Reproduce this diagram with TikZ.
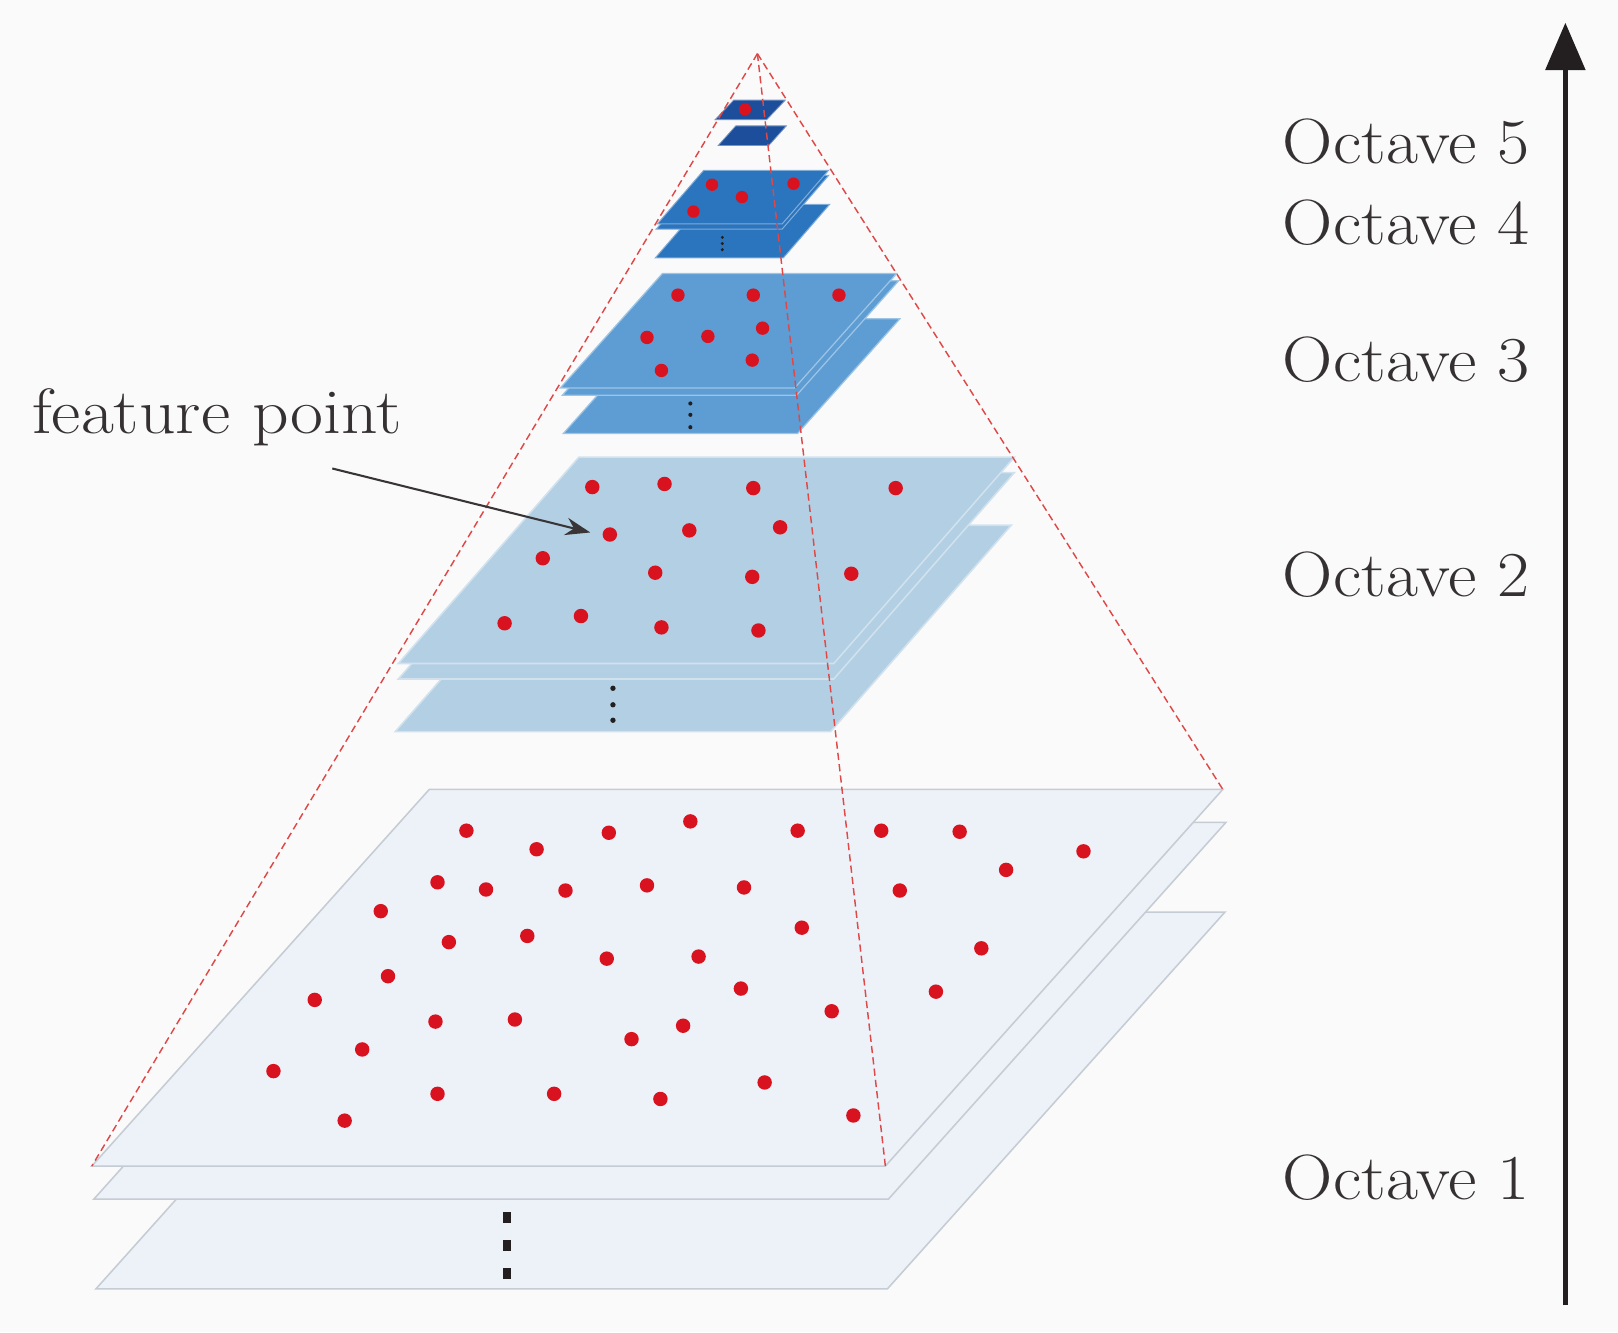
\documentclass[tikz,border=0pt]{standalone}
\usetikzlibrary{arrows.meta}
\definecolor{bgc}{HTML}{FAFAFA}
\definecolor{oa}{HTML}{EDF1F8}
\definecolor{oaline}{HTML}{C6CCD4}
\definecolor{ob}{HTML}{B3CFE3}
\definecolor{oc}{HTML}{5D9DD3}
\definecolor{od}{HTML}{2B74BE}
\definecolor{oe}{HTML}{1D4E9B}
\definecolor{dotc}{HTML}{D9121F}
\definecolor{pyr}{HTML}{E04848}
\definecolor{ink}{HTML}{231F20}
\newcommand{\myplate}[6]{\filldraw[#1] (#2,#4) -- (#3,#4) -- ++(#5,-#6) -- ++(#2-#3,0) -- cycle;}
\newcommand{\widetxt}[2]{\scalebox{#1}[1]{#2}}
\begin{document}
\begin{tikzpicture}[x=1pt,y=-1pt,line join=miter,
  lbl/.style={font=\fontsize{62}{70}\selectfont, text=ink!92, inner sep=0pt},
  plA/.style={fill=oa, draw=oaline, line width=1.5pt},
  plB/.style={fill=ob, draw=ob!60!white, line width=1.5pt},
  plC/.style={fill=oc, draw=oc!60!white, line width=1.2pt},
  plD/.style={fill=od, draw=od!60!white, line width=1pt},
  plE/.style={fill=oe, draw=oe!60!white, line width=0.8pt},
  pyrline/.style={pyr, line width=1.4pt, dash pattern=on 7pt off 4pt},
  vdots/.style={fill=ink}]
\useasboundingbox (0,0) rectangle (1568,1291);
\fill[bgc] (0,0) rectangle (1568,1291);

% ---------- Octave 1
\myplate{plA}{93}{860}{1249}{327}{365}
\myplate{plA}{91}{861}{1162}{327}{365}
\myplate{plA}{89}{858}{1130}{327}{365}
\foreach \yy in {1180,1207,1234} \fill[vdots] (487,\yy-5) rectangle (495,\yy+5);
\foreach \p in {(452,805),(520,823),(590,807),(669,796),(773,805),(854,805),(930,806),(1050,825),(975,843),
  (424,855),(471,862),(548,863),(627,858),(721,860),(872,863),
  (369,883),(777,899),
  (435,913),(511,907),(588,929),(677,927),(951,919),
  (376,946),(718,958),(907,961),
  (305,969),(806,980),
  (422,990),(499,988),(662,994),(612,1007),
  (351,1017),
  (265,1038),(741,1049),
  (424,1060),(537,1060),(640,1065),
  (334,1086),(827,1081)}
  \fill[dotc] \p circle (7pt);

% ---------- Octave 2
\myplate{plB}{383}{805}{709}{175}{200}
\myplate{plB}{386}{808}{658}{175}{200}
\myplate{plB}{386}{808}{643}{175}{200}
\foreach \yy in {667,683,698} \fill[vdots] (594,\yy) circle (2.6pt);
\foreach \p in {(574,472),(644,469),(730,473),(868,473),(591,518),(668,514),(756,511),(526,541),
  (635,555),(729,559),(825,556),(489,604),(563,597),(641,608),(735,611)}
  \fill[dotc] \p circle (7pt);

% ---------- Octave 3
\myplate{plC}{546}{773}{420}{99}{111}
\myplate{plC}{545}{772}{383}{99}{111}
\myplate{plC}{543}{770}{376}{99}{111}
\foreach \yy in {391,402,414} \fill[vdots] (669,\yy) circle (2pt);
\foreach \p in {(657,286),(730,286),(813,286),(627,327),(686,326),(739,318),(641,359),(729,349)}
  \fill[dotc] \p circle (6.5pt);

% ---------- Octave 4
\myplate{plD}{635}{759}{250}{45}{52}
\myplate{plD}{636}{758}{222}{45}{52}
\myplate{plD}{637}{758}{217}{45}{52}
\foreach \yy in {230,236,242} \fill[vdots] (700,\yy) circle (1.6pt);
\foreach \p in {(690,179),(769,178),(719,191),(672,205)}
  \fill[dotc] \p circle (6pt);

% ---------- Octave 5
\myplate{plE}{696}{745}{141}{17}{19}
\myplate{plE}{693}{743}{116}{18}{19}
\fill[dotc] (722,106) circle (6pt);

% ---------- pyramid edges
\coordinate (apex) at (734,52);
\coordinate (pl) at (89,1130);
\coordinate (pm) at (858,1130);
\coordinate (pr) at (1185,765);
\draw[pyrline] (apex) -- (pl);
\draw[pyrline] (apex) -- (pm);
\draw[pyrline] (apex) -- (pr);

% ---------- labels
\node[lbl, anchor=base west] (o5) at (1243,158) {\widetxt{1.09}{Octave 5}};
\node[lbl, anchor=base west] (o4) at (1243,237) {\widetxt{1.09}{Octave 4}};
\node[lbl, anchor=base west] (o3) at (1243,370) {\widetxt{1.09}{Octave 3}};
\node[lbl, anchor=base west] (o2) at (1243,578) {\widetxt{1.09}{Octave 2}};
\node[lbl, anchor=base west] (o1) at (1243,1162) {\widetxt{1.09}{Octave 1}};
\node[lbl, anchor=base west] (fp) at (31,420) {\widetxt{1.12}{feature point}};

% ---------- feature point arrow
\coordinate (fpa) at (322,454);
\coordinate (fpb) at (572,516);
\draw[ink!90, line width=2pt, -{Stealth[length=24pt 0 0, width=17pt 0 0]}] (fpa) -- (fpb);

% ---------- scale axis
\coordinate (axb) at (1517,1265);
\coordinate (axt) at (1517,22);
\draw[ink, line width=5pt, -{Triangle[length=46pt 0 0, width=38pt 0 0]}] (axb) -- (axt);
\end{tikzpicture}
\end{document}
